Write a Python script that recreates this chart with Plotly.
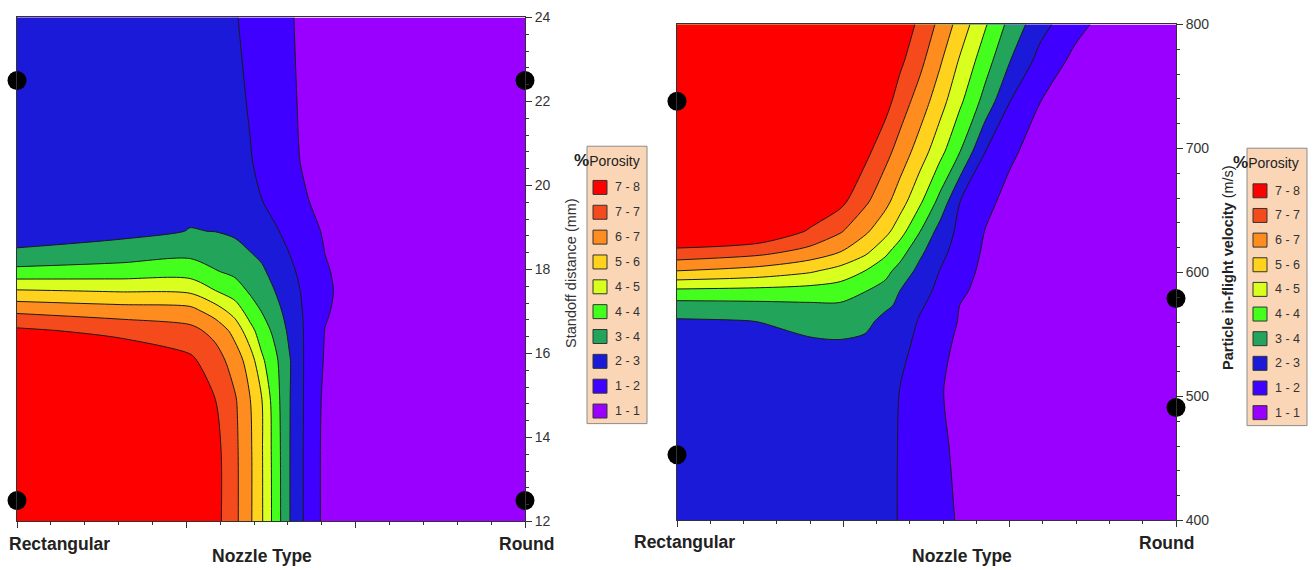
import plotly.graph_objects as go

# ------------------------------------------------------------------ data
legend_labels = ["7 - 8", "7 - 7", "6 - 7", "5 - 6", "4 - 5", "4 - 4", "3 - 4", "2 - 3", "1 - 2", "1 - 1"]
band_colors = ["#FF0000", "#F54A1C", "#FF8C1E", "#FFD21E", "#D8FF1E",
               "#44FF1E", "#22A55A", "#1A1AD8", "#4000FF", "#9900FF"]   # same order as legend

x_tick_text = ["Rectangular", "Round"]

# Left chart: nozzle type (0 = Rectangular, 1 = Round) vs standoff distance (mm)
nozzle_left = [0.0, 0.203, 0.341, 0.390, 0.429, 0.459, 0.482, 0.508, 0.537, 0.567, 0.606, 0.646, 0.793, 1.0]
standoff_mm = [12.0, 13.69, 14.88, 15.83, 16.54, 17.01, 17.49, 17.96, 18.44, 18.91, 19.63, 20.58, 22.0, 24.0]
porosity_left = [
    [8.00, 8.00, 8.00, 7.51, 6.68, 5.86, 5.07, 3.95, 2.76, 1.90, 1.06, 0.95, 0.85, 0.73],
    [8.00, 8.00, 8.00, 7.50, 6.67, 5.86, 5.06, 3.92, 2.76, 1.90, 1.06, 0.97, 0.86, 0.74],
    [8.00, 8.00, 8.00, 7.27, 6.59, 5.77, 5.02, 3.84, 2.77, 1.91, 1.10, 0.99, 0.88, 0.76],
    [8.00, 7.93, 7.40, 6.84, 6.17, 5.38, 4.39, 3.67, 2.79, 1.92, 1.19, 1.03, 0.89, 0.77],
    [7.40, 7.03, 6.72, 6.28, 5.50, 4.52, 3.85, 3.32, 2.58, 1.93, 1.24, 1.06, 0.91, 0.79],
    [6.37, 6.13, 6.01, 5.40, 4.69, 3.88, 3.47, 3.02, 2.43, 1.91, 1.31, 1.09, 0.93, 0.80],
    [5.07, 4.94, 4.86, 4.27, 3.85, 3.40, 3.16, 2.74, 2.28, 1.87, 1.36, 1.10, 0.94, 0.80],
    [3.70, 3.80, 3.88, 3.54, 3.33, 3.07, 2.85, 2.52, 2.13, 1.79, 1.31, 1.09, 0.93, 0.80],
    [2.79, 3.07, 3.27, 3.13, 2.95, 2.74, 2.59, 2.30, 1.97, 1.66, 1.24, 1.06, 0.91, 0.79],
    [2.54, 2.53, 2.77, 2.74, 2.64, 2.45, 2.30, 2.08, 1.79, 1.50, 1.18, 1.03, 0.89, 0.77],
    [2.49, 2.49, 2.60, 2.56, 2.45, 2.23, 2.01, 1.78, 1.54, 1.29, 1.10, 0.99, 0.88, 0.76],
    [2.45, 2.47, 2.49, 2.45, 2.30, 2.04, 1.84, 1.62, 1.37, 1.19, 1.04, 0.95, 0.85, 0.74],
    [2.41, 2.41, 2.41, 2.38, 2.17, 1.94, 1.75, 1.56, 1.33, 1.16, 1.01, 0.93, 0.84, 0.73],
    [2.38, 2.38, 2.38, 2.34, 2.04, 1.84, 1.67, 1.50, 1.29, 1.14, 0.99, 0.91, 0.84, 0.73],
]
runs_left_x = [0, 0, 1, 1]
runs_left_y = [22.5, 12.5, 22.5, 12.5]

# Right chart: nozzle type vs particle in-flight velocity (m/s)
nozzle_right = [0.0, 0.166, 0.267, 0.327, 0.377, 0.417, 0.447, 0.487, 0.527, 0.567,
                0.617, 0.667, 0.727, 0.798, 0.848, 1.0]
velocity_ms = [400.0, 456.4, 504.6, 540.9, 561.0, 573.1, 585.1, 601.2, 617.3, 633.4,
               657.6, 697.8, 738.0, 770.2, 800.0]
porosity_right = [
    [2.41, 2.41, 2.38, 2.34, 2.30, 2.17, 1.96, 1.69, 1.42, 1.19, 1.01, 0.91, 0.85, 0.83, 0.80, 0.73],
    [2.45, 2.45, 2.41, 2.38, 2.34, 2.19, 1.96, 1.65, 1.34, 1.15, 1.00, 0.91, 0.84, 0.82, 0.80, 0.73],
    [2.53, 2.51, 2.49, 2.45, 2.41, 2.26, 1.98, 1.63, 1.28, 1.12, 0.99, 0.90, 0.83, 0.82, 0.80, 0.73],
    [2.60, 2.60, 2.60, 2.64, 2.56, 2.38, 2.29, 1.73, 1.38, 1.15, 1.00, 0.91, 0.84, 0.82, 0.80, 0.73],
    [2.68, 2.76, 3.03, 3.08, 2.95, 2.55, 2.50, 1.92, 1.53, 1.21, 1.01, 0.91, 0.84, 0.82, 0.81, 0.73],
    [3.19, 3.28, 3.37, 3.40, 3.24, 2.88, 2.62, 2.10, 1.67, 1.24, 1.03, 0.92, 0.85, 0.83, 0.82, 0.74],
    [4.09, 4.02, 3.94, 3.84, 3.52, 3.22, 2.74, 2.29, 1.81, 1.36, 1.04, 0.94, 0.85, 0.84, 0.83, 0.75],
    [5.74, 5.45, 5.10, 4.72, 4.24, 3.74, 3.22, 2.53, 1.98, 1.51, 1.10, 0.95, 0.86, 0.85, 0.85, 0.76],
    [7.12, 6.79, 6.28, 5.80, 5.21, 4.47, 3.85, 2.92, 2.23, 1.68, 1.16, 0.97, 0.88, 0.86, 0.86, 0.76],
    [8.00, 7.95, 7.17, 6.59, 5.89, 5.26, 4.57, 3.52, 2.47, 1.81, 1.24, 0.99, 0.89, 0.88, 0.88, 0.77],
    [8.00, 8.00, 7.85, 7.48, 6.65, 5.98, 5.35, 4.39, 3.28, 2.01, 1.45, 1.03, 0.91, 0.89, 0.89, 0.79],
    [8.00, 8.00, 8.00, 8.00, 7.48, 6.76, 6.21, 5.40, 4.50, 3.52, 2.02, 1.38, 0.95, 0.91, 0.91, 0.80],
    [8.00, 8.00, 8.00, 8.00, 8.00, 7.55, 6.89, 6.16, 5.31, 4.39, 3.25, 2.01, 1.26, 1.01, 0.95, 0.82],
    [8.00, 8.00, 8.00, 8.00, 8.00, 8.00, 7.40, 6.69, 5.84, 4.91, 3.83, 2.76, 1.75, 1.06, 0.99, 0.84],
    [8.00, 8.00, 8.00, 8.00, 8.00, 8.00, 7.88, 7.03, 6.32, 5.44, 4.34, 3.28, 2.27, 1.47, 1.10, 0.88],
]
runs_right_x = [0, 0, 1, 1]
runs_right_y = [738, 453, 579, 491]

# ------------------------------------------------------------------ helpers
W, H = 1315, 570
FONT = "Arial, Liberation Sans, sans-serif"
# vertical correction measured from the rendered screenshot
VS, VO = 0.974, 6.5


def fx(px):
    return px / W


def fy(py):
    return 1 - ((py - VO) / VS) / H


colorscale = [[i / 9, c] for i, c in enumerate(reversed(band_colors))]

fig = go.Figure()

contour_style = dict(
    autocontour=False,
    contours=dict(start=1.25, end=7.25, size=0.75, coloring="fill", showlines=True),
    colorscale=colorscale,
    showscale=False,
    line=dict(color="#1a1a1a", width=1, smoothing=0.8),
    hoverinfo="skip",
)

fig.add_trace(go.Contour(x=nozzle_left, y=standoff_mm, z=porosity_left,
                         xaxis="x", yaxis="y", **contour_style))
fig.add_trace(go.Contour(x=nozzle_right, y=velocity_ms, z=porosity_right,
                         xaxis="x2", yaxis="y2", **contour_style))

fig.add_trace(go.Scatter(x=runs_left_x, y=runs_left_y, mode="markers",
                         marker=dict(color="black", size=19), cliponaxis=False,
                         showlegend=False, hoverinfo="skip", xaxis="x", yaxis="y"))
fig.add_trace(go.Scatter(x=runs_right_x, y=runs_right_y, mode="markers",
                         marker=dict(color="black", size=19), cliponaxis=False,
                         showlegend=False, hoverinfo="skip", xaxis="x2", yaxis="y2"))


def xax(dom, anchor):
    return dict(domain=dom, range=[0, 1], anchor=anchor, showgrid=False, zeroline=False,
                showline=True, mirror=True, linecolor="#333", linewidth=1,
                ticks="outside", tick0=0, dtick=1 / 3, ticklen=6, tickcolor="#333",
                showticklabels=False,
                minor=dict(ticks="outside", dtick=1 / 15, ticklen=3, tickcolor="#333"))


def yax(dom, anchor, rng, dt, mdt):
    return dict(domain=dom, range=rng, anchor=anchor, side="right", showgrid=False,
                zeroline=False, showline=True, mirror=True, linecolor="#333", linewidth=1,
                ticks="outside", dtick=dt, ticklen=6, tickcolor="#333",
                tickfont=dict(family=FONT, size=14, color="#333"),
                minor=dict(ticks="outside", dtick=mdt, ticklen=3, tickcolor="#333"))


annotations = []
shapes = []


def text(x, y, s, size=13, bold=False, xanchor="center", angle=0, color="#222"):
    annotations.append(dict(
        x=fx(x), y=fy(y), xref="paper", yref="paper", text=("<b>%s</b>" % s) if bold else s,
        showarrow=False, xanchor=xanchor, yanchor="middle", textangle=angle,
        font=dict(family=FONT, size=size, color=color)))


# bottom labels
text(7, 544, x_tick_text[0], size=17.5, bold=True, xanchor="left")
text(526, 544, x_tick_text[1], size=17.5, bold=True)
text(262, 556, "Nozzle Type", size=17.5, bold=True)
text(684, 542, x_tick_text[0], size=17.5, bold=True)
text(1166, 543, x_tick_text[1], size=17.5, bold=True)
text(962, 556, "Nozzle Type", size=17.5, bold=True)

# y titles
text(571, 272, "Standoff distance (mm)", size=14.5, angle=-90, color="#333")
text(1228, 267, "<b>Particle in-flight velocity</b> (m/s)", size=14.5, angle=-90, color="#222")


def legend(box_x0, box_y0, box_x1, box_y1, title_x, title_y, sw_x, first_y, step):
    shapes.append(dict(type="rect", xref="paper", yref="paper",
                       x0=fx(box_x0), x1=fx(box_x1), y0=fy(box_y1), y1=fy(box_y0),
                       fillcolor="#FAD6B7", line=dict(color="#8c8c8c", width=1)))
    annotations.append(dict(
        x=fx(title_x), y=fy(title_y), xref="paper", yref="paper", showarrow=False,
        xanchor="left", yanchor="middle",
        text='<b><span style="font-size:17px">%</span></b>Porosity',
        font=dict(family=FONT, size=14, color="#222")))
    for i, (lab, col) in enumerate(zip(legend_labels, band_colors)):
        cy = first_y + i * step
        shapes.append(dict(type="rect", xref="paper", yref="paper",
                           x0=fx(sw_x), x1=fx(sw_x + 14), y0=fy(cy + 7), y1=fy(cy - 7),
                           fillcolor=col, line=dict(color="#333", width=1)))
        annotations.append(dict(
            x=fx(sw_x + 20), y=fy(cy), xref="paper", yref="paper", showarrow=False,
            xanchor="left", yanchor="middle", text=lab,
            font=dict(family=FONT, size=12.5, color="#333")))


legend(587, 145, 647, 423, 572, 159, 593, 186.3, 24.9)
legend(1247, 147, 1307, 425, 1231, 161, 1253, 189.7, 24.7)

fig.update_layout(
    width=W, height=H, margin=dict(l=0, r=0, t=0, b=0),
    paper_bgcolor="white", plot_bgcolor="white", showlegend=False,
    xaxis=xax([fx(17), fx(525)], "y"),
    yaxis=yax([fy(521), fy(16)], "x", [12, 24], 2, 0.4),
    xaxis2=xax([fx(677), fx(1176)], "y2"),
    yaxis2=yax([fy(520), fy(23)], "x2", [400, 800], 100, 20),
    annotations=annotations, shapes=shapes,
)

fig.write_html("out.html")
